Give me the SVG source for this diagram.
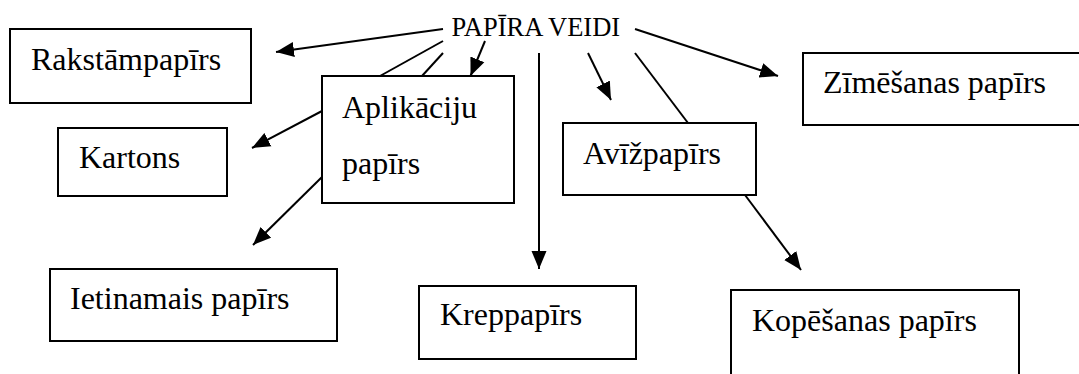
<svg xmlns="http://www.w3.org/2000/svg" width="1079" height="374" viewBox="0 0 1079 374">
<defs>
<style>
.box{fill:#fff;stroke:#000;stroke-width:2}
text{font-family:'Liberation Serif','Times New Roman',serif;fill:#000}
.nl{font-size:16px}
.title{font-size:26.5px}
.c{stroke:#000;stroke-width:2;fill:none}
.a{marker-end:url(#ah)}
</style>
<marker id="ah" markerUnits="userSpaceOnUse" markerWidth="19" markerHeight="16" refX="18" refY="8" orient="auto">
<path d="M0,0.5 L18,8 L0,15.5 z" fill="#000"/>
</marker>
</defs>
<rect width="1079" height="374" fill="#fff"/>
<g id="connectors">
<line class="c a" x1="443" y1="29" x2="276" y2="52"/>
<line class="c" x1="443" y1="41" x2="380" y2="76"/>
<line class="c" x1="443" y1="53" x2="422" y2="76"/>
<line class="c a" x1="485" y1="41" x2="470.5" y2="76"/>
<line class="c a" x1="322" y1="111" x2="252" y2="148"/>
<line class="c a" x1="322" y1="177" x2="253" y2="245"/>
<line class="c a" x1="539" y1="53" x2="539" y2="269"/>
<line class="c a" x1="588" y1="53" x2="611" y2="100"/>
<line class="c" x1="635" y1="53" x2="688" y2="123"/>
<line class="c a" x1="635" y1="29" x2="778" y2="76"/>
<line class="c a" x1="745" y1="195" x2="801" y2="270"/>
</g>
<g id="title"><text class="title" x="451.5" y="36">PAPĪRA VEIDI</text></g>
<g id="n-rakstampapirs"><rect class="box" x="10" y="29" width="241" height="74"/><text class="nl" transform="translate(31,70) scale(2)">Rakstāmpapīrs</text></g>
<g id="n-kartons"><rect class="box" x="58" y="128" width="169" height="68"/><text class="nl" transform="translate(79,168) scale(2)">Kartons</text></g>
<g id="n-aplikaciju"><rect class="box" x="322" y="76" width="192" height="127"/><text class="nl" transform="translate(342,118) scale(2)">Aplikāciju</text><text class="nl" transform="translate(342,174) scale(2)">papīrs</text></g>
<g id="n-avizpapirs"><rect class="box" x="563" y="123" width="193" height="72"/><text class="nl" transform="translate(583,164) scale(2)">Avīžpapīrs</text></g>
<g id="n-zimesanas"><rect class="box" x="803" y="53" width="290" height="72"/><text class="nl" transform="translate(823,93) scale(2)">Zīmēšanas papīrs</text></g>
<g id="n-ietinamais"><rect class="box" x="50" y="269" width="287" height="72"/><text class="nl" transform="translate(70,309) scale(2)">Ietinamais papīrs</text></g>
<g id="n-kreppapirs"><rect class="box" x="419" y="286" width="217" height="73"/><text class="nl" transform="translate(440,325) scale(2)">Kreppapīrs</text></g>
<g id="n-kopesanas"><rect class="box" x="731" y="290" width="288" height="95"/><text class="nl" transform="translate(752,331) scale(2)">Kopēšanas papīrs</text></g>
</svg>
